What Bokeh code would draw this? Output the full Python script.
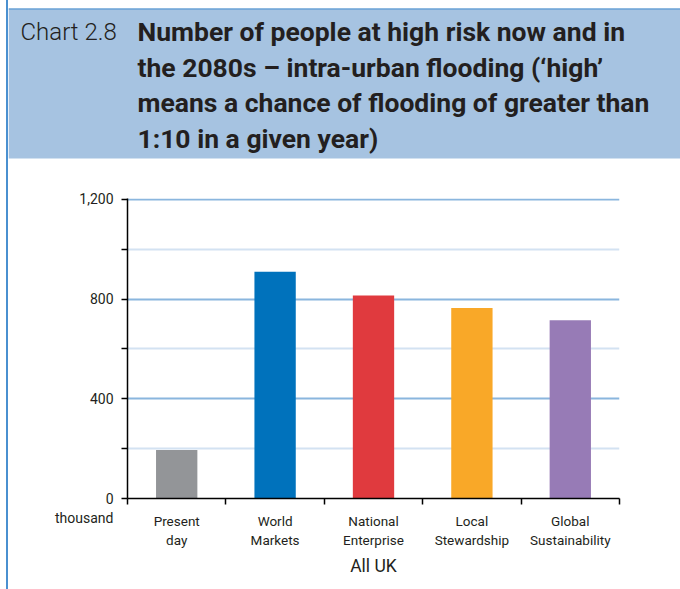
from bokeh.plotting import figure
from bokeh.layouts import column, row
from bokeh.models import Range1d, FixedTicker, LinearAxis, Grid
from bokeh.core.properties import value
from bokeh.embed import file_html
from bokeh.resources import INLINE

# ---- data ----
categories = ["Present\nday", "World\nMarkets", "National\nEnterprise", "Local\nStewardship", "Global\nSustainability"]
values = [195, 910, 815, 765, 715]
colors = ["#939598", "#0072bc", "#e03a3e", "#f9a828", "#977bb6"]
y_ticks = [0, 400, 800, 1200]
y_minor_ticks = [200, 600, 1000]
unit_label = "thousand"
y_tick_labels = {0: "\n0\n" + unit_label, 400: "400", 800: "800", 1200: "1,200"}
title_prefix = "Chart 2.8"
title_lines = ["Number of people at high risk now and in",
               "the 2080s \u2013 intra-urban flooding (\u2018high\u2019",
               "means a chance of flooding of greater than",
               "1:10 in a given year)"]
x_title = "All UK"

FONT = "Roboto"
TXT = "#231f20"
BAND = "#a6c3e1"
EDGE = "#4a90d0"

# ---- header ----
hdr = figure(width=672, height=160, x_range=Range1d(8, 680), y_range=Range1d(160, 0),
             output_backend="svg", toolbar_location=None, min_border=0,
             outline_line_color=None)
hdr.axis.visible = False
hdr.grid.visible = False
hdr.quad(left=8, right=680, top=8, bottom=158, fill_color=BAND, line_color=None)
hdr.segment(x0=8, y0=8.5, x1=680, y1=8.5, line_color=EDGE, line_width=1)
hdr.text(x=[20], y=[31], text=[title_prefix], text_font=value("Roboto Light, Roboto"),
         text_font_size="24px", text_baseline="middle", text_color=TXT)
hdr.text(x=[137] * 4, y=[31, 67, 102, 138], text=title_lines, text_font=value(FONT),
         text_font_style="bold", text_font_size="26.5px", text_baseline="middle", text_color=TXT)

# ---- chart ----
n = len(values)
xs = [i + 0.5 for i in range(n)]
p = figure(width=672, height=429, x_range=Range1d(0, n), y_range=Range1d(0, 1204),
           output_backend="svg", toolbar_location=None,
           min_border_left=119, min_border_right=61, min_border_top=38, min_border_bottom=91,
           outline_line_color=None, x_axis_type=None, y_axis_type=None)

yax = LinearAxis(ticker=FixedTicker(ticks=y_ticks, minor_ticks=y_minor_ticks),
                 major_label_overrides=y_tick_labels,
                 major_label_text_font=FONT, major_label_text_font_size="14px",
                 major_label_text_color=TXT, major_label_standoff=8,
                 axis_line_color="black", axis_line_width=1.5,
                 major_tick_line_color="black", major_tick_line_width=1.5,
                 major_tick_out=6, major_tick_in=0,
                 minor_tick_line_color="black", minor_tick_line_width=1.5,
                 minor_tick_out=6, minor_tick_in=0)
p.add_layout(yax, "left")

p.add_layout(Grid(dimension=1, ticker=FixedTicker(ticks=[400, 800, 1200], minor_ticks=y_minor_ticks),
                  grid_line_color="#8ab6de", grid_line_width=2,
                  minor_grid_line_color="#d3e2f2", minor_grid_line_width=2))

p.vbar(x=xs, top=values, width=0.42, bottom=0, fill_color=colors, line_color=None)

# tick-mark axis (category boundaries)
ax0 = LinearAxis(ticker=FixedTicker(ticks=list(range(n + 1)), minor_ticks=[]),
                 major_label_overrides={i: "" for i in range(n + 1)},
                 major_label_text_font_size="1px", major_label_standoff=0,
                 axis_line_color="black", axis_line_width=1.5,
                 major_tick_line_color="black", major_tick_line_width=1.5,
                 major_tick_out=6, major_tick_in=0, minor_tick_line_color=None)
p.add_layout(ax0, "below")

line1 = {x: c.split("\n")[0] for x, c in zip(xs, categories)}
line2 = {x: c.split("\n")[1] for x, c in zip(xs, categories)}
ax1 = LinearAxis(ticker=FixedTicker(ticks=xs, minor_ticks=[]), major_label_overrides=line1,
                 major_label_text_font=FONT, major_label_text_font_size="13.5px",
                 major_label_text_color=TXT, major_label_standoff=8,
                 axis_line_color=None, major_tick_line_color=None, minor_tick_line_color=None,
                 major_tick_out=0, major_tick_in=0)
p.add_layout(ax1, "below")
ax2 = LinearAxis(ticker=FixedTicker(ticks=xs, minor_ticks=[]), major_label_overrides=line2,
                 major_label_text_font=FONT, major_label_text_font_size="13.5px",
                 major_label_text_color=TXT, major_label_standoff=0,
                 axis_line_color=None, major_tick_line_color=None, minor_tick_line_color=None,
                 major_tick_out=0, major_tick_in=0,
                 axis_label=x_title, axis_label_text_font=FONT, axis_label_text_font_size="17.5px",
                 axis_label_text_font_style="normal", axis_label_text_color=TXT,
                 axis_label_standoff=5)
p.add_layout(ax2, "below")

layout = column(hdr, row(p, spacing=0), spacing=0,
                styles={"margin-left": "6px", "border-left": "2px solid " + EDGE})
open("out.html", "w").write(file_html(layout, INLINE))
